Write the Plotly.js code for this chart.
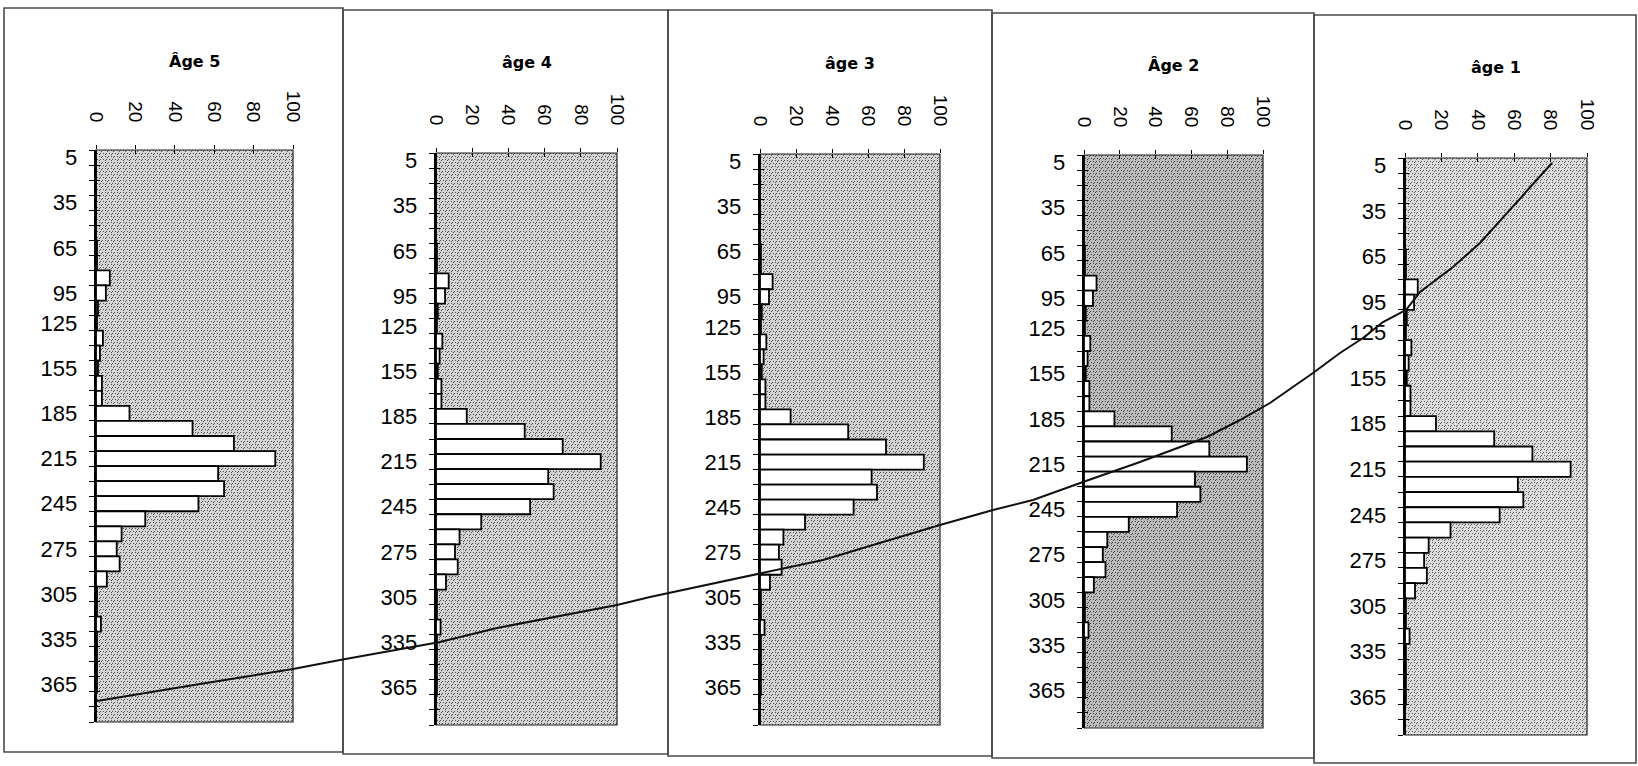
<!DOCTYPE html>
<html><head><meta charset="utf-8">
<script src="https://cdn.plot.ly/plotly-3.0.1.min.js"></script>
<style>html,body{margin:0;padding:0;background:#fff}#chart{width:1638px;height:766px}</style>
</head><body><div id="chart"></div>
<script>
// ---- data ----
const ageTitles = ['Âge 5', 'âge 4', 'âge 3', 'Âge 2', 'âge 1'];
const lengthTickLabels = ['5','35','65','95','125','155','185','215','245','275','305','335','365'];
const lengthTickIndex  = [0, 3, 6, 9, 11, 14, 17, 20, 23, 26, 29, 32, 35];
const binCount = 38;
const freq = [0,0,0,0,0,0,0.5,0.5,7,5,1,0.5,3.5,2,1,3,3,17,49,70,91,62,65,52,25,13,10.5,12,5.5,0.5,0.5,2.5,0.5,0.5,0.5,0.5,0,0];
const pctTicks = [0, 20, 40, 60, 80, 100];
const pctTickLabels = ['0','20','40','60','80','100'];
// growth curve drawn across the panels (figure pixel units)
const curveX = [97,150,200,250,293,340,390,440,497,563,617,650,707,760,823,873,940,993,1033,1083,1140,1207,1240,1270,1313,1340,1363,1383,1406,1420,1453,1480,1507,1533,1552];
const curveY = [701,692,684,676,669,660,651,642,628,615,605,597,585,574,560,545,525,510,500,482,462,437,420,403,373,353,338,322,310,292,267,243,213,183,163];

// ---- layout geometry (pixels) ----
const W = 1638, H = 766;
const panels = [
  {plot:[96,293,150,722],   frame:[4,343,8,752],     base:[214,214,214], dot:[80,80,80]},
  {plot:[436,617,153,725],  frame:[343,668,10,754],  base:[212,212,212], dot:[80,80,80]},
  {plot:[760,940,154,725],  frame:[668,992,10,756],  base:[212,212,212], dot:[80,80,80]},
  {plot:[1084,1263,155,728],frame:[992,1314,13,758], base:[188,188,188], dot:[70,70,70]},
  {plot:[1405,1587,158,735],frame:[1314,1636,15,763],base:[220,220,220], dot:[95,95,95]}
];
const FONT = 'Liberation Sans, Arial, sans-serif';
const TITLE_FONT = 'DejaVu Sans, Liberation Sans, sans-serif';
const binIndex = Array.from({length: binCount}, (_, i) => i);

function stipple(w, h, base, dot) {
  const c = document.createElement('canvas');
  c.width = w; c.height = h;
  const ctx = c.getContext('2d');
  const img = ctx.createImageData(w, h);
  for (let y = 0; y < h; y++) {
    for (let x = 0; x < w; x++) {
      const shift = (Math.floor(y / 3) % 2) ? 1 : 0;
      const isDot = (y % 3 === 0) && ((x + shift * 2) % 3 === 0) || ((y % 3 === 1) && ((x + shift * 2 + 1) % 6 === 0));
      const col = isDot ? dot : base;
      const o = (y * w + x) * 4;
      img.data[o] = col[0]; img.data[o+1] = col[1]; img.data[o+2] = col[2]; img.data[o+3] = 255;
    }
  }
  ctx.putImageData(img, 0, 0);
  return c.toDataURL('image/png');
}

const traces = [];
const layout = {
  width: W, height: H, margin: {l:0, r:0, t:0, b:0},
  paper_bgcolor: '#ffffff', plot_bgcolor: 'rgba(0,0,0,0)',
  showlegend: false, bargap: 0, shapes: [], annotations: [], images: [],
  font: {family: FONT, color: '#000'}
};

panels.forEach((p, i) => {
  const k = i + 1, ko = i + 6;
  const [x0, x1, y0, y1] = p.plot;
  const xd = [x0 / W, x1 / W], yd = [1 - y1 / H, 1 - y0 / H];
  const yr = [binCount - 0.5, -0.5];
  layout['xaxis' + k] = {
    domain: xd, anchor: 'y' + k, side: 'top', range: [0, 100],
    tickmode: 'array', tickvals: pctTicks, ticktext: pctTickLabels, tickangle: 90,
    ticks: 'outside', ticklen: 4, tickwidth: 1, tickcolor: '#000',
    tickfont: {size: 19, family: FONT, color: '#000'}, ticklabelstandoff: 16,
    showgrid: false, zeroline: false, showline: false, fixedrange: true
  };
  layout['xaxis' + ko] = {
    domain: xd, anchor: 'y' + k, overlaying: 'x' + k, side: 'top', range: [0, 100],
    tickmode: 'array', tickvals: pctTicks, ticks: 'inside', ticklen: 4, tickwidth: 1, tickcolor: '#000',
    showticklabels: false, showgrid: false, zeroline: false, showline: false, fixedrange: true
  };
  layout['yaxis' + k] = {
    domain: yd, anchor: 'x' + k, range: yr,
    tickmode: 'array', tickvals: lengthTickIndex, ticktext: lengthTickLabels, ticks: '',
    tickfont: {size: 22, family: FONT, color: '#000'}, ticklabelstandoff: 12,
    minor: {tickmode: 'linear', tick0: -0.5, dtick: 1, ticks: 'outside', ticklen: 5, tickwidth: 1, tickcolor: '#000', showgrid: false},
    showgrid: false, zeroline: false, showline: true, linecolor: '#000', linewidth: 2.4, fixedrange: true
  };
  layout['yaxis' + ko] = {
    domain: yd, anchor: 'x' + k, overlaying: 'y' + k, side: 'left', range: yr,
    tickmode: 'linear', tick0: -0.5, dtick: 1, ticks: 'inside', ticklen: 4, tickwidth: 1, tickcolor: '#000',
    showticklabels: false, showgrid: false, zeroline: false, showline: false, fixedrange: true
  };
  // stippled plot area
  layout.images.push({source: stipple(x1 - x0, y1 - y0, p.base, p.dot), xref:'paper', yref:'paper',
    x: xd[0], y: yd[1], sizex: xd[1] - xd[0], sizey: yd[1] - yd[0],
    xanchor:'left', yanchor:'top', sizing:'stretch', layer:'below'});
  // panel frame
  layout.shapes.push({type:'rect', xref:'paper', yref:'paper', layer:'below',
    x0: p.frame[0] / W, x1: p.frame[1] / W, y0: 1 - p.frame[3] / H, y1: 1 - p.frame[2] / H,
    line: {color:'#4a4a4a', width: 1.6}, fillcolor:'rgba(0,0,0,0)'});
  // plot area border
  layout.shapes.push({type:'rect', xref:'paper', yref:'paper', layer:'below',
    x0: xd[0], x1: xd[1], y0: yd[0], y1: yd[1],
    line: {color:'#222', width: 1.2}, fillcolor:'rgba(0,0,0,0)'});
  // title
  layout.annotations.push({text: '<b>' + ageTitles[i] + '</b>', xref:'paper', yref:'paper',
    x: (x0 + x1) / 2 / W, y: 1 - (61 + i * 1.5) / H, xanchor:'center', yanchor:'middle', showarrow:false,
    font: {size: 16, family: TITLE_FONT, color:'#000'}});

  traces.push({type:'bar', orientation:'h', x: freq, y: binIndex, width: 1,
    xaxis:'x' + k, yaxis:'y' + k, marker:{color:'#ffffff', line:{color:'#000', width:1.8}},
    hoverinfo:'x+y'});
  traces.push({type:'scatter', x: [], y: [], xaxis:'x' + ko, yaxis:'y' + k, hoverinfo:'skip'});
  traces.push({type:'scatter', x: [], y: [], xaxis:'x' + k, yaxis:'y' + ko, hoverinfo:'skip'});
});

layout.xaxis11 = {domain:[0,1], anchor:'y11', range:[0, W], visible:false, fixedrange:true};
layout.yaxis11 = {domain:[0,1], anchor:'x11', range:[H, 0], visible:false, fixedrange:true};
traces.push({type:'scatter', mode:'lines', x: curveX, y: curveY, xaxis:'x11', yaxis:'y11',
  line:{color:'#111', width:2}, hoverinfo:'skip'});

Plotly.newPlot('chart', traces, layout, {displayModeBar:false, staticPlot:true});
</script>
</body></html>
